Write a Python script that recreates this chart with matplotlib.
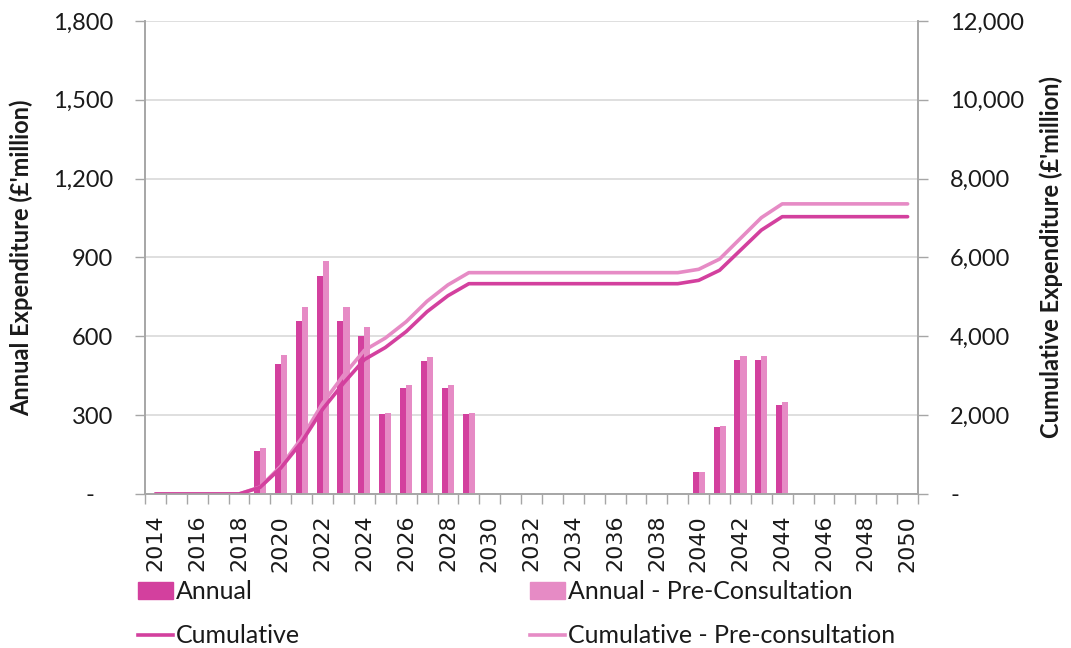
import matplotlib
matplotlib.use("Agg")
import matplotlib.pyplot as plt
import numpy as np
from matplotlib.patches import Patch
from matplotlib.lines import Line2D

# data
years = list(range(2014, 2051))
annual = [0, 0, 0, 0, 0, 165, 495, 660, 830, 660, 600, 305, 405, 505, 405, 305] \
    + [0] * 10 + [85, 255, 510, 510, 340] + [0] * 6
annual_pre = [0, 0, 0, 0, 0, 175, 530, 710, 885, 710, 635, 310, 415, 520, 415, 310] \
    + [0] * 10 + [85, 260, 525, 525, 350] + [0] * 6
cumulative = [0, 0, 0, 0, 0, 165, 660, 1320, 2150, 2810, 3410, 3715, 4120, 4625, 5030, 5335] \
    + [5335] * 10 + [5420, 5675, 6185, 6695, 7035] + [7035] * 6
cumulative_pre = [0, 0, 0, 0, 0, 175, 705, 1415, 2300, 3010, 3645, 3955, 4370, 4890, 5305, 5615] \
    + [5615] * 10 + [5700, 5960, 6485, 7010, 7360] + [7360] * 6
left_ticks = [0, 300, 600, 900, 1200, 1500, 1800]
right_ticks = [0, 2000, 4000, 6000, 8000, 10000, 12000]

DARK = "#D3409E"
LIGHT = "#E68BC5"
GRID = "#D9D9D9"
AXIS = "#A6A6A6"
TXT = "#1a1a1a"

fig = plt.figure(figsize=(10.71, 6.48), dpi=100)
ax = fig.add_axes([0.1354, 0.2377, 0.7218, 0.7299])
ax2 = ax.twinx()

x = np.arange(len(years))
w = 0.29
ax.bar(x - w / 2, annual, width=w, color=DARK, zorder=2)
ax.bar(x + w / 2, annual_pre, width=w, color=LIGHT, zorder=2)

ax2.plot(x, cumulative_pre, color=LIGHT, lw=2.6, solid_capstyle="round")
ax2.plot(x, cumulative, color=DARK, lw=2.6, solid_capstyle="round")

ax.set_xlim(-0.5, len(years) - 0.5)
ax.set_ylim(0, 1800)
ax2.set_ylim(0, 12000)

ax.set_yticks(left_ticks)
ax.set_yticklabels(["-   "] + [f"{v:,}" for v in left_ticks[1:]],
                   family="Lato", fontsize=17, color=TXT)
ax2.set_yticks(right_ticks)
ax2.set_yticklabels(["-"] + [f"{v:,}" for v in right_ticks[1:]],
                    family="Lato", fontsize=17, color=TXT)

ax.set_xticks(x[::2])
ax.set_xticklabels([str(y) for y in years[::2]], rotation=90,
                   family="DejaVu Sans", fontsize=16, color=TXT)
ax.set_xticks(np.arange(-0.5, len(years)), minor=True)
ax.tick_params(axis="x", which="major", length=0, pad=15)
ax.tick_params(axis="x", which="minor", length=7, color=AXIS, width=1)
ax.tick_params(axis="y", length=7, color=AXIS, width=1, pad=16)
ax2.tick_params(axis="y", length=7, color=AXIS, width=1, pad=16)

ax.yaxis.grid(True, color=GRID, lw=1.2, zorder=0)
ax.set_axisbelow(True)

for a in (ax, ax2):
    a.spines["top"].set_visible(False)
    for s in ("left", "right", "bottom"):
        a.spines[s].set_color(AXIS)
        a.spines[s].set_linewidth(1.2)

ax.set_ylabel("Annual Expenditure (£'million)", family="Lato", fontsize=17,
              fontweight="bold", color=TXT)
ax2.set_ylabel("Cumulative Expenditure (£'million)", family="Lato", fontsize=17,
               fontweight="bold", color=TXT, rotation=90)
ax.yaxis.set_label_coords(-0.145, 0.5)
ax2.yaxis.set_label_coords(1.157, 0.5)

leg_kw = dict(frameon=False, loc="upper left", handlelength=1.4,
              handletextpad=0.12, labelspacing=0.85, borderpad=0,
              borderaxespad=0, prop={"family": "Lato", "size": 18})
h1 = [Patch(color=DARK), Line2D([], [], color=DARK, lw=2.6)]
h2 = [Patch(color=LIGHT), Line2D([], [], color=LIGHT, lw=2.6)]
leg1 = fig.legend(h1, ["Annual", "Cumulative"],
                  bbox_to_anchor=(138 / 1071, 1 - 580 / 648), **leg_kw)
leg2 = fig.legend(h2, ["Annual - Pre-Consultation", "Cumulative - Pre-consultation"],
                  bbox_to_anchor=(530 / 1071, 1 - 580 / 648), **leg_kw)
for lg in (leg1, leg2):
    for t in lg.get_texts():
        t.set_color(TXT)

fig.savefig("out.png", dpi=100)
